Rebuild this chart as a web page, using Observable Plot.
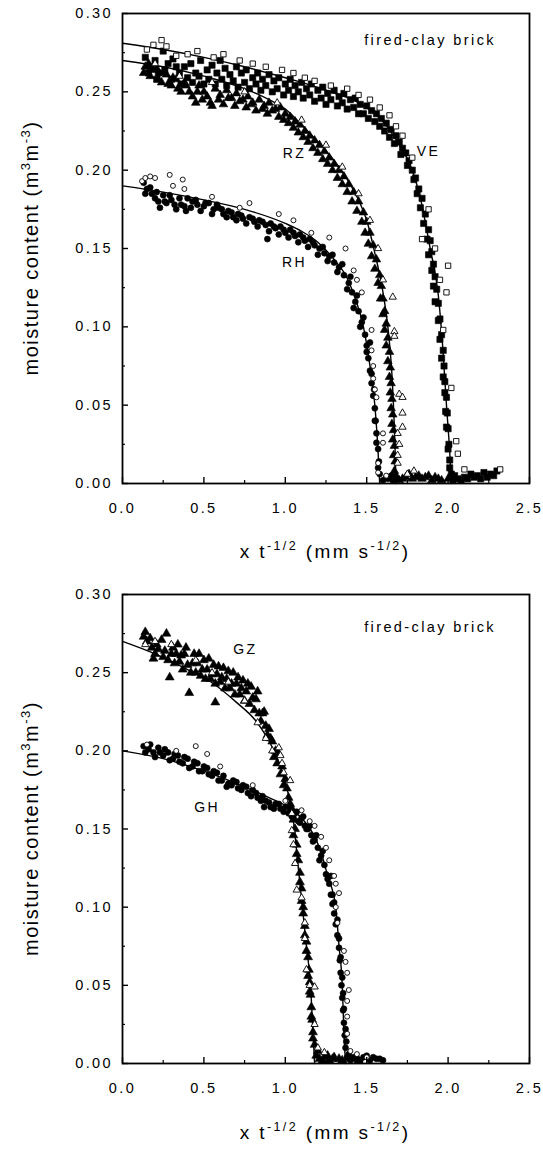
<!DOCTYPE html>
<html><head><meta charset="utf-8">
<script src="https://cdn.jsdelivr.net/npm/d3@7"></script>
<script src="https://cdn.jsdelivr.net/npm/@observablehq/plot@0.6"></script>
<style>
html,body{margin:0;padding:0;background:#fff;}
#charts svg{display:block;letter-spacing:2.4px;}
</style>
</head><body>
<div id="charts"></div>
<script>
// ---- axis ticks and labels ----
const xMajor = [0, 0.5, 1.0, 1.5, 2.0, 2.5];
const xMinor = [0.25, 0.75, 1.25, 1.75, 2.25];
const yMajor = [0, 0.05, 0.10, 0.15, 0.20, 0.25, 0.30];
const yMinor = [0.025, 0.075, 0.125, 0.175, 0.225, 0.275];
const xTickLabels = ["0.0", "0.5", "1.0", "1.5", "2.0", "2.5"];
const yTickLabels = ["0.00", "0.05", "0.10", "0.15", "0.20", "0.25", "0.30"];
const materialLabel = "fired-clay brick";

// ---- top panel: fitted curves ----
const fitVE = [[0,0.281],[0.25,0.277],[0.5,0.272],[0.75,0.266],[1.0,0.259],[1.25,0.251],[1.5,0.240],[1.6,0.231],[1.7,0.216],[1.78,0.200],[1.83,0.182],[1.89,0.150],[1.94,0.120],[1.965,0.090],[1.99,0.050],[2.01,0.020],[2.02,0.0]];
const fitRZ = [[0,0.270],[0.25,0.266],[0.5,0.260],[0.75,0.252],[0.9,0.245],[1.0,0.239],[1.1,0.229],[1.2,0.218],[1.3,0.206],[1.35,0.199],[1.45,0.181],[1.5,0.168],[1.55,0.147],[1.6,0.122],[1.63,0.100],[1.66,0.060],[1.675,0.020],[1.68,0.0]];
const fitRH = [[0,0.190],[0.25,0.186],[0.5,0.181],[0.75,0.175],[1.0,0.166],[1.1,0.161],[1.2,0.154],[1.3,0.143],[1.38,0.131],[1.43,0.118],[1.48,0.100],[1.52,0.075],[1.55,0.050],[1.57,0.020],[1.58,0.0]];

// ---- top panel: measured points ----
const veFilled = [[0.14,0.272],[0.17,0.266],[0.20,0.270],[0.22,0.262],[0.25,0.276],[0.28,0.268],[0.31,0.271],[0.35,0.262],[0.38,0.266],[0.42,0.268],[0.45,0.262],[0.48,0.270],[0.52,0.264],[0.55,0.267],[0.58,0.262],[0.60,0.270],[0.63,0.265],[0.66,0.261],[0.70,0.266],[0.73,0.262],[0.76,0.264],[0.80,0.259],[0.83,0.262],[0.86,0.258],[0.90,0.261],[0.93,0.257],[0.96,0.259],[1.00,0.255],[1.03,0.258],[1.06,0.254],[1.10,0.256],[1.13,0.252],[1.16,0.255],[1.20,0.251],[1.23,0.253],[1.26,0.249],[1.30,0.251],[1.33,0.247],[1.36,0.249],[1.40,0.245],[1.43,0.246],[1.46,0.242],[1.50,0.241],[1.53,0.238],[1.56,0.236],[1.59,0.233],[1.62,0.230],[1.65,0.226],[1.68,0.222],[1.70,0.218],[1.72,0.214],[1.74,0.211],[1.76,0.206],[1.78,0.200],[1.80,0.195],[1.82,0.188],[1.84,0.182],[1.86,0.172],[1.88,0.162],[1.89,0.155],[1.90,0.148],[1.91,0.140],[1.92,0.132],[1.93,0.124],[1.94,0.115],[1.95,0.105],[1.96,0.095],[1.97,0.085],[1.975,0.075],[1.98,0.065],[1.99,0.055],[1.995,0.045],[2.00,0.035],[2.005,0.025],[2.01,0.015],[2.02,0.006],[2.03,0.002],[2.06,0.003],[2.10,0.004],[2.14,0.006],[2.18,0.005],[2.22,0.007],[2.26,0.006],[2.30,0.008]];
const veFilled2 = [[0.16,0.262],[0.21,0.258],[0.26,0.264],[0.30,0.258],[0.33,0.266],[0.36,0.255],[0.40,0.259],[0.43,0.256],[0.47,0.260],[0.50,0.255],[0.53,0.258],[0.57,0.255],[0.61,0.258],[0.64,0.254],[0.68,0.257],[0.71,0.253],[0.75,0.256],[0.78,0.252],[0.82,0.255],[0.85,0.251],[0.88,0.254],[0.92,0.250],[0.95,0.252],[0.99,0.248],[1.02,0.251],[1.05,0.247],[1.08,0.250],[1.11,0.246],[1.15,0.248],[1.18,0.244],[1.22,0.246],[1.25,0.242],[1.28,0.245],[1.32,0.241],[1.35,0.243],[1.38,0.239],[1.42,0.240],[1.45,0.236],[1.48,0.236],[1.51,0.233],[1.55,0.231],[1.58,0.228],[1.61,0.225],[1.64,0.221],[1.67,0.217],[1.71,0.210],[1.75,0.203],[1.79,0.194],[1.81,0.185],[1.83,0.176],[1.85,0.166],[1.87,0.156],[1.88,0.146],[1.90,0.136],[1.91,0.126],[1.92,0.116],[1.94,0.104],[1.95,0.092],[1.96,0.080],[1.97,0.068],[1.98,0.058],[1.985,0.046],[1.99,0.036],[2.00,0.022],[2.01,0.010],[2.04,0.005],[2.08,0.002],[2.12,0.003],[2.16,0.004],[2.20,0.003],[2.24,0.004],[2.28,0.005]];
const veOpen = [[0.15,0.277],[0.19,0.280],[0.24,0.283],[0.27,0.279],[0.33,0.273],[0.40,0.274],[0.46,0.276],[0.56,0.272],[0.62,0.274],[0.72,0.270],[0.80,0.268],[0.88,0.266],[0.98,0.264],[1.05,0.262],[1.12,0.259],[1.18,0.257],[1.28,0.254],[1.38,0.252],[1.45,0.248],[1.52,0.245],[1.58,0.240],[1.64,0.235],[1.68,0.228],[1.72,0.222],[1.78,0.208],[1.84,0.156],[1.88,0.175],[1.92,0.150],[1.95,0.130],[1.99,0.122],[2.00,0.139],[1.97,0.098],[2.02,0.061],[2.05,0.027],[2.06,0.019],[2.10,0.009],[2.32,0.009]];
const rzFilled = [[0.13,0.262],[0.16,0.268],[0.19,0.264],[0.22,0.258],[0.25,0.262],[0.28,0.255],[0.31,0.259],[0.34,0.252],[0.38,0.256],[0.41,0.250],[0.45,0.243],[0.47,0.254],[0.50,0.250],[0.54,0.243],[0.57,0.252],[0.60,0.248],[0.64,0.251],[0.67,0.246],[0.70,0.249],[0.74,0.245],[0.77,0.247],[0.80,0.243],[0.84,0.245],[0.87,0.241],[0.90,0.243],[0.94,0.239],[0.97,0.240],[1.00,0.236],[1.03,0.234],[1.06,0.231],[1.09,0.229],[1.12,0.225],[1.15,0.222],[1.18,0.219],[1.21,0.216],[1.24,0.212],[1.27,0.208],[1.30,0.204],[1.33,0.200],[1.36,0.196],[1.39,0.191],[1.42,0.186],[1.45,0.180],[1.48,0.173],[1.50,0.167],[1.52,0.160],[1.54,0.152],[1.56,0.143],[1.58,0.133],[1.59,0.126],[1.60,0.118],[1.61,0.110],[1.62,0.102],[1.63,0.093],[1.64,0.084],[1.645,0.074],[1.65,0.064],[1.655,0.054],[1.66,0.044],[1.665,0.034],[1.67,0.024],[1.675,0.014],[1.68,0.005],[1.70,0.002],[1.74,0.004],[1.78,0.003],[1.82,0.005],[1.86,0.004],[1.90,0.002],[1.94,0.003]];
const rzFilled2 = [[0.14,0.266],[0.17,0.260],[0.21,0.265],[0.24,0.256],[0.27,0.261],[0.30,0.254],[0.33,0.258],[0.36,0.250],[0.39,0.254],[0.43,0.247],[0.46,0.250],[0.49,0.245],[0.52,0.247],[0.55,0.241],[0.59,0.245],[0.62,0.242],[0.65,0.246],[0.69,0.241],[0.72,0.244],[0.76,0.240],[0.79,0.242],[0.82,0.238],[0.86,0.239],[0.89,0.236],[0.92,0.238],[0.96,0.234],[0.99,0.232],[1.02,0.230],[1.05,0.227],[1.08,0.224],[1.11,0.221],[1.14,0.218],[1.17,0.214],[1.20,0.211],[1.23,0.207],[1.26,0.204],[1.29,0.200],[1.32,0.195],[1.35,0.191],[1.38,0.186],[1.41,0.180],[1.44,0.174],[1.47,0.167],[1.49,0.160],[1.51,0.153],[1.53,0.145],[1.55,0.137],[1.57,0.128],[1.585,0.118],[1.60,0.108],[1.61,0.098],[1.62,0.088],[1.63,0.078],[1.64,0.068],[1.645,0.058],[1.65,0.048],[1.655,0.038],[1.66,0.028],[1.665,0.018],[1.67,0.008],[1.72,0.003],[1.76,0.006],[1.80,0.004],[1.84,0.003],[1.88,0.005],[1.92,0.004],[1.96,0.002],[2.00,0.003]];
const rzOpen = [[0.20,0.268],[0.35,0.260],[0.55,0.256],[0.75,0.250],[0.95,0.243],[1.10,0.232],[1.25,0.216],[1.35,0.202],[1.45,0.185],[1.52,0.168],[1.57,0.150],[1.60,0.130],[1.66,0.119],[1.67,0.097],[1.67,0.094],[1.70,0.057],[1.72,0.055],[1.72,0.045],[1.72,0.036],[1.69,0.032],[1.70,0.025],[1.69,0.018],[1.69,0.013],[1.79,0.008],[1.75,0.006]];
const rhFilled = [[0.13,0.192],[0.15,0.188],[0.18,0.185],[0.20,0.182],[0.22,0.180],[0.25,0.184],[0.27,0.179],[0.30,0.181],[0.33,0.175],[0.36,0.178],[0.39,0.174],[0.40,0.182],[0.43,0.180],[0.46,0.178],[0.50,0.177],[0.53,0.179],[0.56,0.175],[0.59,0.176],[0.62,0.172],[0.65,0.174],[0.68,0.170],[0.71,0.172],[0.74,0.169],[0.78,0.170],[0.81,0.167],[0.84,0.168],[0.88,0.165],[0.89,0.156],[0.91,0.166],[0.94,0.163],[0.97,0.164],[1.00,0.160],[1.03,0.162],[1.06,0.158],[1.09,0.159],[1.12,0.155],[1.15,0.156],[1.18,0.152],[1.21,0.150],[1.24,0.147],[1.27,0.145],[1.30,0.141],[1.33,0.138],[1.36,0.133],[1.39,0.128],[1.41,0.122],[1.43,0.116],[1.45,0.110],[1.47,0.103],[1.49,0.095],[1.50,0.088],[1.51,0.080],[1.52,0.072],[1.53,0.064],[1.54,0.056],[1.55,0.048],[1.555,0.040],[1.56,0.032],[1.57,0.022],[1.575,0.014],[1.58,0.006],[1.60,0.002],[1.63,0.003],[1.66,0.002]];
const rhFilled2 = [[0.14,0.185],[0.17,0.189],[0.21,0.186],[0.23,0.176],[0.26,0.180],[0.29,0.184],[0.32,0.178],[0.35,0.182],[0.38,0.177],[0.42,0.176],[0.45,0.181],[0.48,0.174],[0.51,0.179],[0.55,0.172],[0.58,0.178],[0.61,0.175],[0.64,0.170],[0.67,0.173],[0.70,0.168],[0.73,0.171],[0.76,0.166],[0.80,0.169],[0.83,0.164],[0.86,0.167],[0.90,0.161],[0.93,0.164],[0.96,0.159],[0.99,0.162],[1.02,0.157],[1.05,0.160],[1.08,0.154],[1.11,0.157],[1.14,0.151],[1.17,0.154],[1.20,0.146],[1.23,0.151],[1.26,0.142],[1.29,0.146],[1.32,0.135],[1.35,0.140],[1.38,0.124],[1.40,0.132],[1.42,0.112],[1.44,0.120],[1.46,0.100],[1.48,0.106],[1.50,0.084],[1.52,0.090],[1.53,0.070],[1.545,0.060],[1.55,0.040],[1.56,0.026],[1.57,0.010],[1.62,0.004],[1.65,0.005],[1.68,0.003]];
const rhOpen = [[0.12,0.193],[0.14,0.195],[0.17,0.196],[0.20,0.195],[0.29,0.197],[0.31,0.190],[0.37,0.194],[0.38,0.188],[0.55,0.183],[0.72,0.176],[0.78,0.179],[0.96,0.172],[1.05,0.168],[1.16,0.160],[1.27,0.157],[1.37,0.150],[1.42,0.136],[1.44,0.130],[1.47,0.122],[1.53,0.098],[1.53,0.085],[1.54,0.075],[1.54,0.067],[1.55,0.060],[1.56,0.055],[1.60,0.032],[1.60,0.026],[1.57,0.013],[1.57,0.007],[1.62,0.005]];

// ---- bottom panel: fitted curves ----
const fitGZ = [[0,0.270],[0.2,0.262],[0.4,0.252],[0.53,0.245],[0.7,0.231],[0.82,0.219],[0.93,0.200],[1.0,0.180],[1.05,0.155],[1.08,0.125],[1.105,0.100],[1.13,0.075],[1.155,0.050],[1.17,0.020],[1.18,0.0]];
const fitGH = [[0,0.200],[0.25,0.195],[0.5,0.187],[0.75,0.177],[0.9,0.170],[1.0,0.165],[1.1,0.157],[1.17,0.147],[1.22,0.135],[1.26,0.120],[1.31,0.100],[1.33,0.075],[1.35,0.050],[1.36,0.020],[1.37,0.0]];

// ---- bottom panel: measured points ----
const gzFilled = [[0.13,0.273],[0.15,0.270],[0.18,0.266],[0.20,0.262],[0.22,0.265],[0.25,0.260],[0.27,0.275],[0.28,0.258],[0.29,0.247],[0.31,0.266],[0.33,0.262],[0.35,0.257],[0.38,0.262],[0.40,0.255],[0.41,0.237],[0.42,0.250],[0.44,0.262],[0.46,0.256],[0.48,0.248],[0.50,0.258],[0.52,0.252],[0.54,0.246],[0.56,0.255],[0.57,0.231],[0.58,0.249],[0.60,0.244],[0.62,0.253],[0.64,0.246],[0.66,0.240],[0.68,0.250],[0.70,0.243],[0.72,0.236],[0.74,0.245],[0.76,0.238],[0.78,0.230],[0.79,0.241],[0.82,0.233],[0.84,0.224],[0.86,0.224],[0.88,0.216],[0.90,0.214],[0.92,0.206],[0.94,0.200],[0.96,0.198],[0.98,0.190],[1.00,0.182],[1.01,0.176],[1.02,0.170],[1.04,0.163],[1.05,0.156],[1.06,0.150],[1.07,0.140],[1.08,0.130],[1.09,0.122],[1.10,0.112],[1.10,0.104],[1.11,0.096],[1.12,0.088],[1.13,0.078],[1.14,0.068],[1.145,0.060],[1.15,0.052],[1.155,0.044],[1.16,0.036],[1.165,0.028],[1.17,0.020],[1.18,0.012],[1.19,0.005],[1.21,0.003],[1.24,0.004],[1.27,0.002],[1.30,0.004],[1.33,0.003]];
const gzFilled2 = [[0.14,0.276],[0.17,0.272],[0.19,0.259],[0.21,0.268],[0.24,0.271],[0.26,0.264],[0.30,0.262],[0.32,0.256],[0.34,0.268],[0.36,0.261],[0.37,0.252],[0.39,0.266],[0.43,0.256],[0.45,0.250],[0.47,0.262],[0.49,0.252],[0.51,0.246],[0.53,0.259],[0.55,0.249],[0.57,0.243],[0.59,0.254],[0.61,0.247],[0.63,0.240],[0.65,0.251],[0.67,0.243],[0.69,0.236],[0.71,0.247],[0.73,0.240],[0.75,0.232],[0.77,0.243],[0.80,0.234],[0.81,0.226],[0.83,0.238],[0.85,0.219],[0.87,0.225],[0.89,0.210],[0.91,0.208],[0.93,0.196],[0.95,0.192],[0.97,0.185],[0.99,0.178],[1.03,0.166],[1.05,0.146],[1.07,0.134],[1.09,0.116],[1.11,0.100],[1.12,0.082],[1.13,0.072],[1.14,0.056],[1.15,0.046],[1.16,0.030],[1.17,0.016],[1.20,0.008],[1.23,0.002],[1.26,0.005],[1.29,0.003],[1.35,0.002],[1.40,0.003],[1.45,0.002]];
const gzOpen = [[0.14,0.268],[0.20,0.270],[0.30,0.268],[0.45,0.258],[0.55,0.250],[0.65,0.244],[0.75,0.232],[0.83,0.218],[0.88,0.208],[0.92,0.200],[0.96,0.202],[0.97,0.197],[0.98,0.192],[0.99,0.186],[1.03,0.181],[1.04,0.160],[1.04,0.149],[1.05,0.140],[1.06,0.128],[1.07,0.111],[1.10,0.106],[1.12,0.090],[1.12,0.080],[1.13,0.060],[1.15,0.050],[1.18,0.049],[1.18,0.025],[1.20,0.010],[1.24,0.007]];
const ghFilled = [[0.13,0.203],[0.16,0.201],[0.19,0.199],[0.22,0.202],[0.25,0.197],[0.28,0.199],[0.31,0.195],[0.34,0.197],[0.37,0.192],[0.40,0.195],[0.43,0.190],[0.46,0.192],[0.49,0.187],[0.52,0.189],[0.55,0.184],[0.58,0.186],[0.61,0.181],[0.64,0.177],[0.67,0.178],[0.70,0.180],[0.73,0.175],[0.76,0.177],[0.79,0.171],[0.82,0.173],[0.85,0.168],[0.87,0.164],[0.88,0.168],[0.91,0.164],[0.94,0.166],[0.97,0.163],[1.00,0.164],[1.02,0.160],[1.04,0.158],[1.06,0.160],[1.08,0.155],[1.10,0.157],[1.12,0.152],[1.14,0.150],[1.16,0.146],[1.18,0.143],[1.20,0.138],[1.22,0.133],[1.24,0.127],[1.25,0.121],[1.27,0.115],[1.28,0.108],[1.29,0.102],[1.30,0.096],[1.31,0.089],[1.32,0.082],[1.33,0.074],[1.335,0.066],[1.34,0.058],[1.345,0.050],[1.35,0.042],[1.355,0.034],[1.36,0.026],[1.365,0.018],[1.37,0.010],[1.38,0.004],[1.40,0.002],[1.44,0.003],[1.48,0.004],[1.52,0.002],[1.56,0.003],[1.60,0.002]];
const ghFilled2 = [[0.14,0.199],[0.17,0.204],[0.20,0.196],[0.23,0.199],[0.26,0.201],[0.29,0.194],[0.32,0.198],[0.35,0.193],[0.38,0.196],[0.41,0.189],[0.44,0.193],[0.47,0.187],[0.50,0.190],[0.53,0.185],[0.56,0.187],[0.59,0.181],[0.62,0.184],[0.65,0.179],[0.68,0.181],[0.71,0.176],[0.74,0.178],[0.77,0.173],[0.80,0.175],[0.83,0.170],[0.86,0.171],[0.90,0.167],[0.93,0.163],[0.96,0.166],[0.99,0.161],[1.03,0.163],[1.05,0.157],[1.07,0.161],[1.09,0.154],[1.11,0.158],[1.13,0.150],[1.15,0.152],[1.17,0.142],[1.19,0.146],[1.21,0.130],[1.23,0.136],[1.26,0.118],[1.28,0.120],[1.29,0.108],[1.30,0.103],[1.32,0.092],[1.33,0.080],[1.34,0.068],[1.35,0.055],[1.355,0.045],[1.36,0.035],[1.37,0.022],[1.375,0.014],[1.39,0.006],[1.42,0.004],[1.46,0.002],[1.50,0.005],[1.54,0.004],[1.58,0.003]];
const ghOpen = [[0.15,0.204],[0.33,0.200],[0.45,0.203],[0.52,0.198],[0.60,0.190],[0.80,0.178],[1.00,0.168],[1.10,0.162],[1.15,0.155],[1.18,0.152],[1.22,0.145],[1.25,0.138],[1.27,0.130],[1.30,0.120],[1.31,0.115],[1.33,0.109],[1.31,0.100],[1.32,0.090],[1.36,0.072],[1.37,0.065],[1.38,0.058],[1.39,0.047],[1.38,0.040],[1.38,0.030],[1.38,0.019],[1.40,0.008],[1.44,0.006],[1.50,0.004]];

// ---- curve labels ----
const topLabels = [{x: 1.057, y: 0.2106, t: "RZ"}, {x: 1.88, y: 0.212, t: "VE"}, {x: 1.057, y: 0.141, t: "RH"}];
const bottomLabels = [{x: 0.755, y: 0.2648, t: "GZ"}, {x: 0.52, y: 0.1638, t: "GH"}];

const FONT = '"Liberation Sans", Arial, Helvetica, sans-serif';
const X = d => d[0], Y = d => d[1];

function filled(data, symbol, r) {
  return Plot.dot(data, {x: X, y: Y, symbol, r, fill: "black", stroke: "black", strokeWidth: 0.6});
}
function open(data, symbol, r) {
  return Plot.dot(data, {x: X, y: Y, symbol, r, fill: "white", stroke: "black", strokeWidth: 0.9});
}
function fit(data) {
  return Plot.line(data, {x: X, y: Y, stroke: "black", strokeWidth: 1.4, curve: "monotone-x"});
}
// inward tick marks on the left and bottom frame edges
function xTicks(values, len, sw) {
  return Plot.ruleX(values, {x: d => d, y1: 0, y2: 0, insetTop: -len, stroke: "black", strokeWidth: sw});
}
function yTicks(values, len, sw) {
  return Plot.ruleY(values, {y: d => d, x1: 0, x2: 0, insetRight: -len, stroke: "black", strokeWidth: sw});
}

function panel({height, marginTop, marginBottom, curves, dots, labels, noteDy}) {
  return Plot.plot({
    width: 543, height, marginTop, marginBottom, marginLeft: 122, marginRight: 14,
    x: {domain: [0, 2.5]},
    y: {domain: [0, 0.3]},
    style: {fontFamily: FONT, fontSize: "14.5px", color: "black", background: "white"},
    marks: [
      ...curves.map(fit),
      ...dots,
      Plot.text(labels, {x: "x", y: "y", text: "t", fontSize: 14, fill: "black"}),
      Plot.text([materialLabel], {frameAnchor: "top-right", textAnchor: "end", dx: -33.5, dy: noteDy, fontSize: 14.5, fill: "black"}),
      xTicks(xMajor, 6, 1.4), xTicks(xMinor, 3, 1.2),
      yTicks(yMajor, 6, 1.4), yTicks(yMinor, 3, 1.2),
      Plot.axisX({ticks: xMajor, tickSize: 0, tickPadding: 19, tickFormat: d => xTickLabels[xMajor.indexOf(d)], label: null}),
      Plot.axisY({ticks: yMajor, tickSize: 0, tickPadding: 9.5, tickFormat: d => yTickLabels[yMajor.indexOf(d)], label: null}),
      Plot.frame({stroke: "black", strokeWidth: 1.8})
    ]
  });
}

function addTitles(svg, frameMidY, xBaseline) {
  const s = d3.select(svg);
  const yt = s.append("text")
    .attr("transform", `translate(38,${frameMidY}) rotate(-90)`)
    .attr("text-anchor", "middle")
    .attr("font-family", FONT).attr("font-size", 20).attr("fill", "black")
    .style("letter-spacing", "1.5px");
  yt.append("tspan").text("moisture content (m");
  yt.append("tspan").attr("dy", -8).attr("font-size", 13).text("3");
  yt.append("tspan").attr("dy", 8).text("m");
  yt.append("tspan").attr("dy", -8).attr("font-size", 13).text("-3");
  yt.append("tspan").attr("dy", 8).text(")");

  const xt = s.append("text")
    .attr("x", 325).attr("y", xBaseline)
    .attr("text-anchor", "middle")
    .attr("font-family", FONT).attr("font-size", 19).attr("fill", "black")
    .style("letter-spacing", "2.4px");
  xt.append("tspan").text("x t");
  xt.append("tspan").attr("dy", -8).attr("font-size", 12.5).text("-1/2");
  xt.append("tspan").attr("dy", 8).text(" (mm s");
  xt.append("tspan").attr("dy", -8).attr("font-size", 12.5).text("-1/2");
  xt.append("tspan").attr("dy", 8).text(")");
}

const topPlot = panel({
  height: 583, marginTop: 13, marginBottom: 100,
  curves: [fitVE, fitRZ, fitRH],
  dots: [filled(veFilled.concat(veFilled2), "square", 3.5),
         filled(rzFilled.concat(rzFilled2), "triangle", 3.2),
         filled(rhFilled.concat(rhFilled2), "circle", 3.0),
         open(veOpen, "square", 3.0), open(rzOpen, "triangle", 2.7), open(rhOpen, "circle", 2.5)],
  labels: topLabels, noteDy: 21
});
addTitles(topPlot, 248, 558);

const bottomPlot = panel({
  height: 568, marginTop: 11, marginBottom: 88,
  curves: [fitGZ, fitGH],
  dots: [filled(gzFilled.concat(gzFilled2), "triangle", 3.3),
         filled(ghFilled.concat(ghFilled2), "circle", 3.0),
         open(gzOpen, "triangle", 2.7), open(ghOpen, "circle", 2.5)],
  labels: bottomLabels, noteDy: 27.5
});
addTitles(bottomPlot, 245.5, 556);

document.getElementById("charts").append(topPlot, bottomPlot);
</script>
</body></html>
